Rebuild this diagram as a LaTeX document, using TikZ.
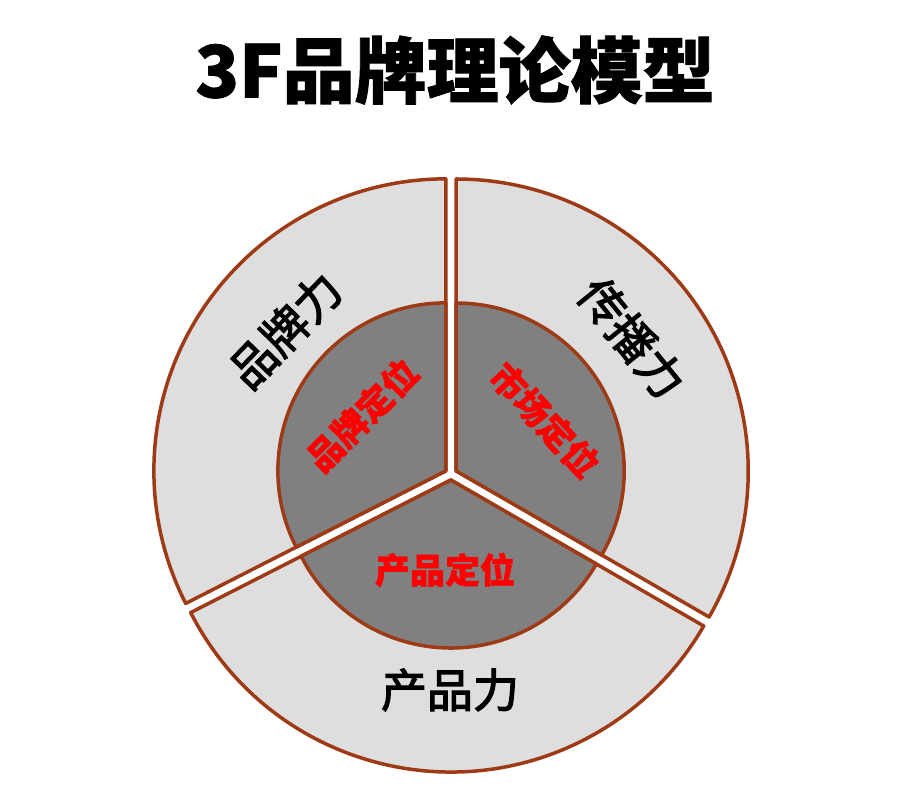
\documentclass[tikz,border=0pt]{standalone}
\usepackage{fontspec}
\newfontfamily\cjk{Noto Sans CJK SC}[FakeBold=2.5]
\newfontfamily\cjkheavy{Noto Sans CJK SC}[BoldFeatures={FakeBold=1.2}]
\usetikzlibrary{positioning, calc}
\definecolor{rimred}{RGB}{158,58,22}
\definecolor{outergray}{RGB}{222,222,222}
\definecolor{innergray}{RGB}{128,128,128}

\begin{document}
\begin{tikzpicture}[
    x=1pt, y=1pt,
    piece/.style={draw=rimred, line width=3.5pt, line join=round, fill=outergray},
    core/.style={draw=rimred, line width=3.5pt, line join=round, fill=innergray},
    titletext/.style={font=\cjkheavy\bfseries\fontsize{72}{72}\selectfont, inner sep=0pt},
    outerlabel/.style={font=\cjk\fontsize{46}{46}\selectfont, text=black, inner sep=0pt},
    innerlabel/.style={font=\cjkheavy\bfseries\fontsize{35}{35}\selectfont, text=red, inner sep=0pt}
]
\useasboundingbox[fill=white] (0,0) rectangle (906,801);
\coordinate (c) at (451,327);

% three exploded pieces, each a ring sector with its core
\foreach \a/\b/\n in {90/207/brand, -30/90/comm, 207/330/prod} {
    \coordinate (\n) at ($(c)+({(\a+\b)/2}:6)$);
    \draw[piece] (\n) -- ++(\a:292) arc[start angle=\a, end angle=\b, radius=292] -- cycle;
    \draw[core] (\n) -- ++(\a:168) arc[start angle=\a, end angle=\b, radius=168] -- cycle;
}

% title
\node[titletext] (title) at (455,731) {3F品牌理论模型};

% outer labels
\node[outerlabel, rotate=46] (brandforce) at ($(c)+(-166,144)$) {品牌力};
\node[outerlabel, rotate=-51] (commforce) at ($(c)+(181,136)$) {传播力};
\node[outerlabel] (prodforce) at ($(c)+(-1,-216)$) {产品力};

% inner labels
\node[innerlabel, rotate=45] (brandpos) at ($(c)+(-89,59)$) {品牌定位};
\node[innerlabel, rotate=-47] (marketpos) at ($(c)+(94,54)$) {市场定位};
\node[innerlabel] (prodpos) at ($(c)+(-6,-96)$) {产品定位};
\end{tikzpicture}
\end{document}
